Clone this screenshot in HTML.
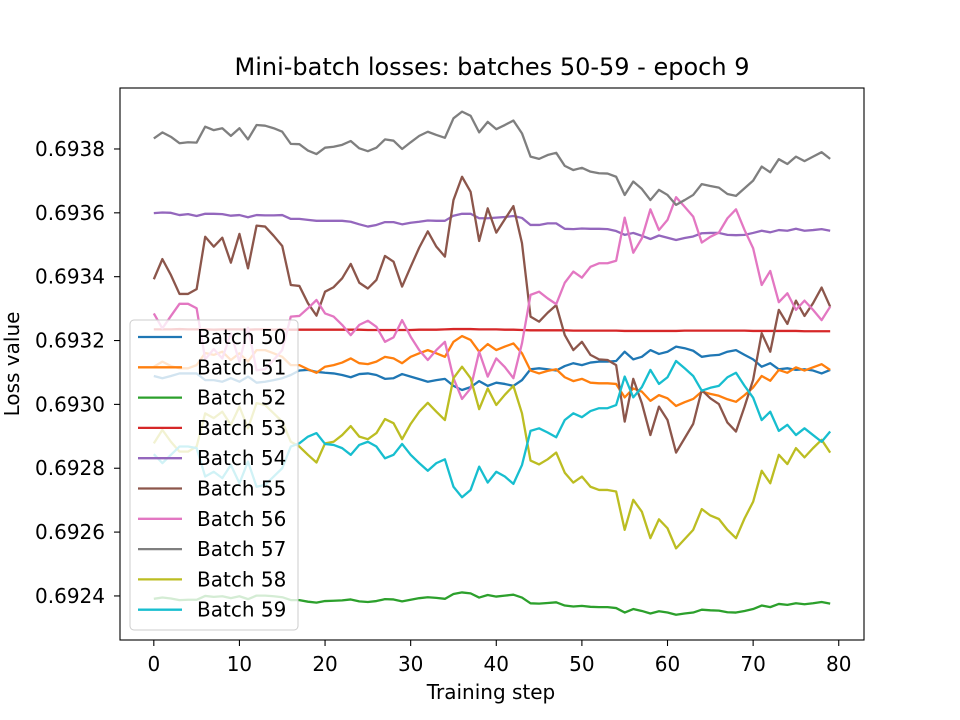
<!DOCTYPE html>
<html><head><meta charset="utf-8"><style>
html,body{margin:0;padding:0;background:#fff;}
svg{display:block;font-family:"DejaVu Sans","Liberation Sans",sans-serif;}
</style></head><body>
<svg id="chart" width="960" height="720" viewBox="0 0 960 720" xmlns="http://www.w3.org/2000/svg">
<rect x="0" y="0" width="960" height="720" fill="#fff"/>
<text x="492" y="75" font-size="24" text-anchor="middle" fill="#000">Mini-batch losses: batches 50-59 - epoch 9</text>
<g id="plot"></g>
<g id="axes"></g>
<text x="491" y="699" font-size="20" text-anchor="middle">Training step</text>
<text transform="translate(19,364) rotate(-90)" font-size="20" text-anchor="middle">Loss value</text>
<g id="legend"></g>
</svg>
<script>
const seriesNames = ["Batch 50","Batch 51","Batch 52","Batch 53","Batch 54","Batch 55","Batch 56","Batch 57","Batch 58","Batch 59"];
const seriesColors = ["#1f77b4","#ff7f0e","#2ca02c","#d62728","#9467bd","#8c564b","#e377c2","#7f7f7f","#bcbd22","#17becf"];
const xTicks = [0,10,20,30,40,50,60,70,80];
const yTicks = [0.6924,0.6926,0.6928,0.6930,0.6932,0.6934,0.6936,0.6938];
const s50 = [693089,693082,693089,693097,693097,693097,693076,693076,693071,693082,
693071,693087,693068,693071,693076,693082,693092,693106,693108,693102,
693099,693097,693092,693085,693095,693097,693092,693080,693082,693095,
693087,693079,693071,693076,693080,693058,693045,693054,693073,693058,
693068,693064,693058,693076,693110,693113,693110,693106,693120,693129,
693123,693131,693134,693134,693136,693165,693141,693149,693170,693158,
693165,693181,693176,693168,693149,693153,693155,693165,693170,693155,
693141,693118,693129,693110,693113,693108,693110,693106,693097,693108];
const s51 = [693118,693134,693120,693113,693113,693123,693161,693155,693165,693139,
693160,693134,693170,693170,693160,693149,693123,693123,693110,693099,
693118,693123,693131,693144,693129,693126,693134,693149,693144,693129,
693149,693160,693170,693160,693149,693196,693214,693202,693165,693189,
693170,693181,693191,693160,693106,693097,693105,693110,693085,693073,
693080,693068,693066,693066,693064,693022,693050,693040,693011,693029,
693019,692995,693007,693017,693040,693033,693027,693016,693008,693029,
693053,693089,693074,693108,693099,693116,693106,693116,693126,693108];
const s52 = [692391,692395,692392,692387,692388,692388,692400,692397,692399,692393,
692399,692390,692401,692401,692399,692396,692387,692387,692382,692379,
692384,692385,692386,692389,692383,692381,692384,692390,692389,692383,
692388,692393,692396,692394,692391,692406,692411,692408,692395,692403,
692398,692401,692404,692395,692377,692376,692378,692380,692370,692367,
692369,692366,692365,692365,692362,692348,692359,692353,692345,692352,
692348,692341,692345,692348,692357,692355,692354,692349,692348,692353,
692359,692370,692365,692375,692372,692377,692374,692377,692381,692376];
const s53 = [693235,693235,693235,693236,693235,693235,693235,693234,693235,693235,
693235,693234,693235,693235,693234,693235,693234,693234,693234,693234,
693234,693234,693234,693234,693234,693233,693233,693233,693233,693233,
693233,693234,693234,693234,693235,693236,693236,693236,693235,693235,
693235,693234,693234,693233,693232,693232,693232,693232,693232,693231,
693231,693231,693231,693231,693231,693230,693230,693230,693230,693230,
693230,693230,693231,693231,693231,693231,693231,693231,693231,693231,
693230,693230,693230,693230,693230,693230,693229,693229,693229,693229];
const s54 = [693599,693601,693600,693593,693596,693590,693597,693597,693596,693591,
693593,693586,693593,693592,693592,693593,693581,693581,693578,693575,
693575,693575,693575,693572,693564,693557,693562,693571,693571,693564,
693569,693572,693576,693575,693575,693591,693597,693597,693583,693583,
693585,693587,693590,693584,693562,693562,693567,693567,693550,693549,
693551,693550,693550,693549,693543,693531,693537,693528,693518,693529,
693522,693515,693521,693526,693536,693537,693537,693531,693530,693531,
693537,693544,693539,693546,693544,693550,693544,693546,693549,693544];
const s55 = [693392,693455,693405,693346,693346,693361,693525,693494,693522,693444,
693534,693426,693560,693557,693528,693496,693374,693371,693317,693278,
693353,693367,693395,693440,693381,693363,693390,693465,693447,693369,
693431,693491,693542,693494,693463,693640,693713,693666,693512,693614,
693538,693580,693621,693505,693275,693259,693287,693311,693217,693170,
693196,693155,693141,693139,693123,692946,693080,693004,692904,692993,
692951,692849,692894,692939,693045,693019,693001,692943,692915,692993,
693077,693223,693165,693296,693252,693325,693277,693317,693366,693306];
const s56 = [693285,693238,693277,693315,693315,693301,693141,693173,693144,693223,
693133,693240,693107,693110,693139,693170,693275,693277,693301,693327,
693285,693275,693249,693217,693249,693262,693243,693196,693210,693264,
693212,693170,693139,693170,693196,693082,693017,693050,693165,693087,
693144,693117,693082,693191,693343,693353,693332,693314,693381,693416,
693397,693431,693442,693442,693450,693585,693475,693520,693611,693546,
693578,693649,693619,693588,693507,693525,693538,693583,693611,693546,
693489,693374,693418,693320,693348,693296,693325,693296,693264,693306];
const s57 = [693833,693852,693838,693818,693821,693820,693870,693859,693865,693841,
693865,693830,693875,693873,693865,693854,693816,693815,693795,693784,
693804,693807,693813,693825,693802,693793,693804,693830,693826,693800,
693821,693841,693854,693844,693835,693896,693917,693904,693852,693885,
693862,693875,693889,693849,693776,693769,693781,693788,693747,693734,
693741,693729,693724,693723,693713,693656,693698,693675,693640,693672,
693656,693625,693640,693656,693690,693684,693679,693659,693653,693677,
693701,693745,693727,693768,693753,693776,693762,693776,693790,693769];
const s58 = [692878,692920,692883,692852,692852,692868,692972,692957,692977,692936,
692993,692925,693004,692998,692972,692946,692883,692868,692842,692818,
692878,692883,692904,692932,692899,692891,692910,692954,692941,692891,
692939,692977,693005,692977,692951,693082,693118,693082,692985,693050,
692998,693030,693058,692972,692824,692812,692828,692849,692786,692755,
692774,692742,692732,692732,692727,692607,692701,692664,692581,692640,
692612,692549,692578,692607,692672,692652,692641,692607,692581,692643,
692695,692792,692753,692842,692813,692863,692834,692863,692889,692849];
const s59 = [692844,692816,692842,692868,692868,692863,692774,692789,692769,692810,
692753,692821,692742,692748,692774,692800,692868,692878,692899,692910,
692876,692873,692863,692842,692873,692883,692868,692831,692842,692876,
692842,692816,692792,692816,692828,692742,692709,692732,692805,692755,
692789,692774,692751,692810,692917,692925,692912,692897,692951,692972,
692960,692979,692988,692988,692998,693087,693022,693054,693108,693064,
693085,693136,693113,693089,693043,693052,693058,693085,693099,693058,
693021,692951,692977,692917,692936,692904,692925,692904,692883,692915];
const seriesMicro = [s50,s51,s52,s53,s54,s55,s56,s57,s58,s59];

const NS = "http://www.w3.org/2000/svg";
const L = 120, R = 864, T = 88, B = 640;
const xMin = -3.95, xMax = 82.95, yMin = 0.692262, yMax = 0.693991;
function xs(v){ return L + (v - xMin) / (xMax - xMin) * (R - L); }
function ys(v){ return B - (v - yMin) / (yMax - yMin) * (B - T); }
function mk(tag, attrs){ const e = document.createElementNS(NS, tag); for (const k in attrs) e.setAttribute(k, attrs[k]); return e; }

const plot = document.getElementById('plot');
const clip = mk('clipPath', {id:'clipA'});
clip.appendChild(mk('rect', {x:L, y:T, width:R-L, height:B-T}));
plot.appendChild(clip);
seriesMicro.forEach((arr, si) => {
  const pts = arr.map((m, i) => xs(i).toFixed(2) + ',' + ys(m / 1e6).toFixed(2)).join(' ');
  const pl = mk('polyline', {points:pts, fill:'none', stroke:seriesColors[si], 'stroke-width':'2.3', 'stroke-linejoin':'round', 'clip-path':'url(#clipA)'});
  
  
  plot.appendChild(pl);
});

const axes = document.getElementById('axes');
const frame = mk('rect', {x:L, y:T, width:R-L, height:B-T, fill:'none', stroke:'#000', 'stroke-width':'1.1'});


axes.appendChild(frame);
xTicks.forEach(t => {
  const x = xs(t);
  axes.appendChild(mk('line', {x1:x, x2:x, y1:B, y2:B+6, stroke:'#000', 'stroke-width':'1.1'}));
  const tx = mk('text', {x:x, y:B+31, 'font-size':'20', 'text-anchor':'middle'});
  tx.textContent = String(t);
  
  
  axes.appendChild(tx);
});
yTicks.forEach(t => {
  const y = ys(t);
  axes.appendChild(mk('line', {x1:L-6, x2:L, y1:y, y2:y, stroke:'#000', 'stroke-width':'1.1'}));
  const tx = mk('text', {x:L-15, y:y+7, 'font-size':'20', 'text-anchor':'end'});
  tx.textContent = t.toFixed(4);
  
  
  axes.appendChild(tx);
});

const lg = document.getElementById('legend');
const box = mk('rect', {x:130, y:320, width:168, height:310, rx:4, fill:'#fff', 'fill-opacity':'0.8', stroke:'#cccccc', 'stroke-width':'1'});


lg.appendChild(box);
seriesNames.forEach((n, i) => {
  const y = 337 + i * 30.3;
  const g = mk('g', {});
  
  
  g.appendChild(mk('line', {x1:138, x2:182, y1:y, y2:y, stroke:seriesColors[i], 'stroke-width':'2.3'}));
  const tx = mk('text', {x:197, y:y+7, 'font-size':'20'});
  tx.textContent = n;
  g.appendChild(tx);
  lg.appendChild(g);
});
</script>
</body></html>
